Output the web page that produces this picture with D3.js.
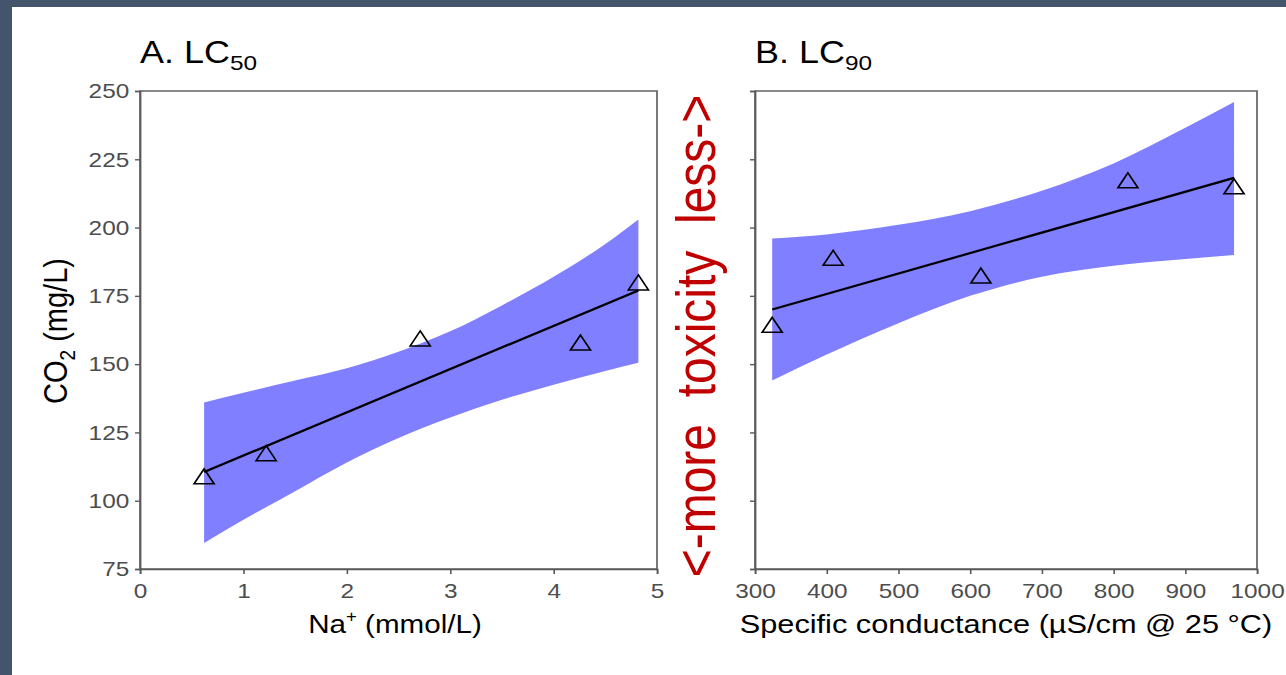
<!DOCTYPE html>
<html lang="en">
<head>
    <meta charset="UTF-8">
    <title>CO2 LC50 / LC90</title>
    <script src="https://d3js.org/d3.v7.min.js"></script>
    <style>
        body { margin: 0; background-color: #44546A; }
        text { font-family: "Liberation Sans", Arial, sans-serif; }
        .axis path, .axis line { stroke: #595959; stroke-width: 1.4; }
        .axis text { fill: #4d4d4d; font-size: 21px; }
    </style>
</head>
<body>
<div id="chart"></div>
<script>
    // data
    const naX = [0.62, 1.22, 2.71, 4.26, 4.82];
    const lc50 = [108, 116.5, 158.5, 157, 179];
    const condX = [324, 409, 615, 820, 968];
    const lc90 = [163.5, 188, 181.5, 216.4, 214.2];

    // fitted lines (end points)
    const fitNaX = [0.62, 4.82];
    const fitLc50 = [110.5, 177];
    const fitCondX = [324, 968];
    const fitLc90 = [170, 218.2];

    // confidence bands
    const bandNaX = [0.62, 1.0, 1.5, 2.0, 2.5, 3.0, 3.5, 4.0, 4.5, 4.82];
    const bandLc50Lo = [84.5, 93, 103.5, 114, 123, 130.5, 137, 142.5, 147.5, 150.5];
    const bandLc50Hi = [136, 139.5, 144, 148.5, 154.5, 162, 171.5, 182, 194, 203];
    const bandCondX = [324, 400, 500, 600, 700, 800, 900, 968];
    const bandLc90Lo = [144, 153.5, 165, 175, 182, 186, 188.5, 190];
    const bandLc90Hi = [196, 197.5, 201, 206, 213.5, 223.5, 236.5, 246];

    const yTicks = [75, 100, 125, 150, 175, 200, 225, 250];
    const naTicks = [0, 1, 2, 3, 4, 5];
    const condTicks = [300, 400, 500, 600, 700, 800, 900, 1000];

    const W = 1286, H = 675;
    const sx = 1.16; // the picture is a bit wider than tall
    const svg = d3.select("#chart").append("svg")
        .attr("width", W).attr("height", H);

    svg.append("rect").attr("width", W).attr("height", H).attr("fill", "#44546A");
    svg.append("rect").attr("x", 12).attr("y", 7)
        .attr("width", W - 12).attr("height", H - 7).attr("fill", "#fff");

    const g = svg.append("g").attr("transform", `scale(${sx},1)`);

    const y = d3.scaleLinear().domain([75, 250]).range([569, 91]);

    function panel(left, right, xDomain, xTicks, xs, ys, fx, fy, bx, blo, bhi, showY) {
        const x = d3.scaleLinear().domain(xDomain).range([left / sx, right / sx]);
        const p = g.append("g");

        const band = d3.area()
            .x((d, i) => x(bx[i]))
            .y0((d, i) => y(blo[i]))
            .y1((d, i) => y(bhi[i]))
            .curve(d3.curveMonotoneX);
        p.append("path").datum(bx).attr("d", band).attr("fill", "#7f7fff");

        const line = d3.line().x((d, i) => x(fx[i])).y((d, i) => y(fy[i]));
        p.append("path").datum(fx).attr("d", line)
            .attr("fill", "none").attr("stroke", "#000").attr("stroke-width", 2.2);

        p.selectAll(".pt").data(xs).enter().append("path")
            .attr("class", "pt")
            .attr("transform", (d, i) => `translate(${x(d)},${y(ys[i])})`)
            .attr("d", d3.symbol(d3.symbolTriangle, 130))
            .attr("fill", "none").attr("stroke", "#000").attr("stroke-width", 1.5);

        // border
        p.append("rect")
            .attr("x", x.range()[0]).attr("y", 91)
            .attr("width", x.range()[1] - x.range()[0]).attr("height", 569 - 91)
            .attr("fill", "none").attr("stroke", "#595959").attr("stroke-width", 1.4);

        p.append("g").attr("class", "axis")
            .attr("transform", `translate(${x.range()[0]},0)`)
            .call(d3.axisLeft(y).tickValues(yTicks).tickSize(4.3).tickPadding(5)
                .tickFormat(showY ? d3.format("d") : ""));

        p.append("g").attr("class", "axis")
            .attr("transform", "translate(0,569)")
            .call(d3.axisBottom(x).tickValues(xTicks).tickSize(5).tickPadding(9)
                .tickFormat(d3.format("d")));
        return x;
    }

    const xA = panel(140, 657, [0, 5], naTicks, naX, lc50, fitNaX, fitLc50,
        bandNaX, bandLc50Lo, bandLc50Hi, true);
    const xB = panel(755, 1257, [300, 1000], condTicks, condX, lc90, fitCondX, fitLc90,
        bandCondX, bandLc90Lo, bandLc90Hi, false);

    // titles
    function title(left, main, sub) {
        const t = g.append("text").attr("x", left / sx).attr("y", 63)
            .attr("font-size", 31).attr("fill", "#000");
        t.append("tspan").text(main);
        t.append("tspan").attr("font-size", 21).attr("dy", 7).text(sub);
    }
    title(140, "A. LC", "50");
    title(755, "B. LC", "90");

    // axis titles
    const na = g.append("text")
        .attr("x", 395 / sx).attr("y", 633)
        .attr("text-anchor", "middle").attr("font-size", 25.5).attr("fill", "#000");
    na.append("tspan").text("Na");
    na.append("tspan").attr("font-size", 16).attr("dy", -11).text("+");
    na.append("tspan").attr("dy", 11).text(" (mmol/L)");

    g.append("text")
        .attr("x", 1006 / sx).attr("y", 633)
        .attr("text-anchor", "middle").attr("font-size", 26.5).attr("fill", "#000")
        .text("Specific conductance (\u00b5S/cm @ 25 \u00b0C)");

    const co = g.append("text")
        .attr("transform", `translate(${67 / sx},331) rotate(-90)`)
        .attr("text-anchor", "middle").attr("font-size", 29).attr("fill", "#000");
    co.append("tspan").text("CO");
    co.append("tspan").attr("font-size", 19).attr("dy", 7).text("2");
    co.append("tspan").attr("dy", -7).text(" (mg/L)");

    // red annotation
    g.append("text")
        .attr("transform", `translate(${715 / sx},336) rotate(-90)`)
        .attr("text-anchor", "middle").attr("font-size", 48).attr("fill", "#c00000")
        .style("white-space", "pre")
        .text("<-more  toxicity  less->");
</script>
</body>
</html>
